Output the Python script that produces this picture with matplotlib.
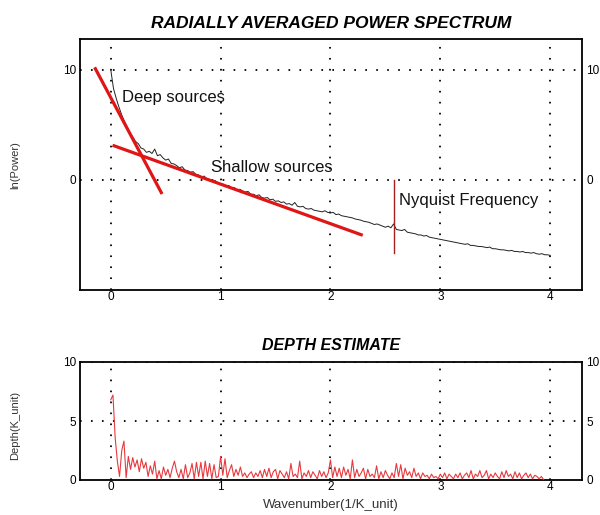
import numpy as np
from matplotlib import pyplot as plt

plt.rcParams['font.family'] = ['Liberation Sans', 'DejaVu Sans']
plt.rcParams['lines.scale_dashes'] = False

# radially averaged power spectrum, ln(power), sampled every 0.025 wavenumber
k_step = 0.025
ln_power = [
    10.0, 8.3, 7.4, 6.6, 5.9, 5.3, 4.8, 4.3,
    3.9, 3.5, 3.3, 2.9, 2.8, 2.5, 2.6, 2.4,
    2.8, 2.2, 2.3, 2.0, 1.8, 1.9, 1.5, 1.45,
    1.3, 1.1, 1.2, 0.9, 0.85, 0.7, 0.75, 0.5,
    0.45, 0.25, 0.35, 0.1, 0.05, -0.15, -0.05, -0.3,
    -0.35, -0.4, -0.55, -0.5, -0.75, -0.7, -0.9, -0.85,
    -1.0, -1.1, -1.05, -1.3, -1.3, -1.45, -1.35, -1.6,
    -1.65, -1.6, -1.8, -1.75, -1.95, -1.9, -2.05, -2.0,
    -2.2, -2.15, -2.3, -2.05, -2.4, -2.45, -2.4, -2.6,
    -2.65, -2.6, -2.75, -2.8, -2.85, -2.9, -2.8, -2.95,
    -3.0, -2.95, -3.15, -3.1, -3.25, -3.3, -3.35, -3.4,
    -3.45, -3.55, -3.6, -3.65, -3.75, -3.8, -3.85, -3.95,
    -4.05, -4.0, -4.1, -4.2, -4.3, -4.2, -4.35, -4.0,
    -4.5, -4.55, -4.6, -4.5, -4.75, -4.8, -4.85, -4.9,
    -5.0, -5.0, -5.1, -5.05, -5.2, -5.25, -5.3, -5.35,
    -5.4, -5.45, -5.5, -5.55, -5.6, -5.65, -5.7, -5.75,
    -5.8, -5.85, -5.8, -5.95, -5.95, -6.0, -6.05, -6.05,
    -6.1, -6.15, -6.1, -6.25, -6.25, -6.3, -6.35, -6.35,
    -6.4, -6.45, -6.4, -6.5, -6.5, -6.55, -6.5, -6.6,
    -6.6, -6.65, -6.6, -6.7, -6.75, -6.7, -6.8, -6.8,
    -6.85,
]

# fitted segments (x0, y0, x1, y1)
deep_fit = [(-0.14, 0.46), (10.1, -1.15)]
shallow_fit = [(0.03, 2.28), (3.1, -4.98)]
nyquist_k = 2.575
nyquist_span = (0.0, -6.6)

# depth estimate, sampled every 0.02 wavenumber
d_step = 0.02
depth = [
    6.8, 7.2, 3.6, 1.6, 0.3, 2.5, 3.3, 0.2, 2.0, 0.9,
    1.9, 1.1, 1.7, 0.7, 1.8, 1.0, 1.5, 0.3, 1.2, 0.5,
    1.6, 0.1, 0.8, 0.1, 1.1, 0.4, 0.9, 0.2, 1.0, 1.6,
    0.7, 0.2, 0.9, 0.1, 1.3, 0.2, 0.6, 1.4, 0.1, 1.5,
    0.3, 1.5, 0.1, 1.6, 0.3, 1.4, 0.1, 1.3, 0.2, 0.3,
    2.0, 0.4, 1.8, 0.2, 0.8, 1.3, 0.3, 0.9, 0.4, 1.1,
    0.3, 0.6, 0.2, 0.5, 0.7, 0.2, 0.6, 0.3, 0.8, 0.2,
    0.9, 0.3, 1.0, 0.2, 0.7, 0.9, 0.1, 0.8, 0.5, 0.2,
    0.7, 0.1, 1.4, 0.3, 0.5, 0.2, 1.6, 0.1, 0.6, 0.3,
    0.8, 0.2, 0.7, 0.4, 0.1, 0.8, 0.3, 0.7, 0.2, 0.6,
    1.7, 0.2, 1.1, 0.3, 1.0, 0.2, 1.1, 0.4, 0.9, 0.1,
    1.7, 0.2, 0.9, 0.3, 0.6, 1.0, 0.1, 0.9, 0.3, 0.5,
    0.2, 1.2, 0.1, 0.7, 0.2, 0.8, 0.4, 0.1, 0.6, 0.2,
    1.4, 0.3, 1.3, 0.1, 1.0, 0.4, 0.7, 0.2, 1.0, 0.3,
    0.6, 0.1, 0.6, 0.3, 0.4, 0.1, 0.5, 0.2, 0.3, 0.1,
    0.5, 0.2, 0.6, 0.1, 0.5, 0.3, 0.1, 0.5, 0.2, 0.6,
    0.1, 0.4, 0.6, 0.2, 0.8, 0.1, 0.5, 0.3, 0.8, 0.2,
    0.4, 0.8, 0.1, 0.5, 0.2, 0.6, 0.3, 0.1, 0.7, 0.2,
    0.8, 0.3, 0.5, 0.1, 0.7, 0.2, 0.6, 0.1, 0.4, 0.6,
    0.2, 0.5, 0.1, 0.4, 0.3, 0.1, 0.3, 0.05,
]

xticks = [0, 1, 2, 3, 4]
dot_style = (0, (1.2, 6.7))


def style_axes(ax, yticks, ylim):
    ax.set_xlim(-0.28, 4.29)
    ax.set_ylim(*ylim)
    ax.set_xticks(xticks)
    ax.set_yticks(yticks)
    ax.tick_params(length=0, labelsize=8.5, labelright=True, pad=3)
    ax.tick_params(axis='x', pad=1)
    for s in ax.spines.values():
        s.set_linewidth(1.3)
    for xv in xticks:
        ax.axvline(xv, color='black', lw=1.3, ls=dot_style, zorder=1)
    for yv in yticks[1:]:
        ax.axhline(yv, color='black', lw=1.3, ls=dot_style, zorder=1)


fig = plt.figure(figsize=[6.0, 5.15], dpi=100)

# top panel
ax1 = fig.add_axes([80/600, 1-290/515, 502/600, 251/515])
k = np.arange(len(ln_power)) * k_step
ax1.plot(k, ln_power, color='#222222', lw=0.7, zorder=3)
ax1.plot(deep_fit[0], deep_fit[1], color='#e01515', lw=2.3, zorder=4)
ax1.plot(shallow_fit[0], shallow_fit[1], color='#e01515', lw=2.3, zorder=4)
ax1.plot([nyquist_k, nyquist_k], nyquist_span, color='#a82020', lw=1.0, zorder=4)
style_axes(ax1, [-10, 0, 10], (-9.55, 12.8))
ax1.set_yticks([0, 10])
ax1.text(0.1, 7.5, 'Deep sources', fontsize=12, va='center', ha='left', color='#111111')
ax1.text(0.91, 1.13, 'Shallow sources', fontsize=12, va='center', ha='left', color='#111111')
ax1.text(2.62, -1.9, 'Nyquist Frequency', fontsize=12, va='center', ha='left', color='#111111')

# bottom panel
ax2 = fig.add_axes([80/600, 1-480/515, 502/600, 118/515])
kd = np.arange(len(depth)) * d_step
ax2.plot(kd, depth, color='#e63a3f', lw=0.8, zorder=3)
style_axes(ax2, [0, 5, 10], (0, 10))

fig.text(331/600, 1-23/515, 'RADIALLY AVERAGED POWER SPECTRUM', fontsize=12.5,
         fontweight='bold', fontstyle='italic', ha='center', va='center')
fig.text(331/600, 1-345/515, 'DEPTH ESTIMATE', fontsize=11.5,
         fontweight='bold', fontstyle='italic', ha='center', va='center')
fig.text(15/600, 1-165/515, 'ln(Power)', fontsize=8, rotation=90,
         ha='center', va='center', color='#333333')
fig.text(15/600, 1-425/515, 'Depth(K_unit)', fontsize=8, rotation=90,
         ha='center', va='center', color='#333333')
fig.text(331/600, 1-505/515, 'Wavenumber(1/K_unit)', fontsize=9.5,
         ha='center', va='center', color='#333333')

fig.savefig('out.png', dpi=100)
